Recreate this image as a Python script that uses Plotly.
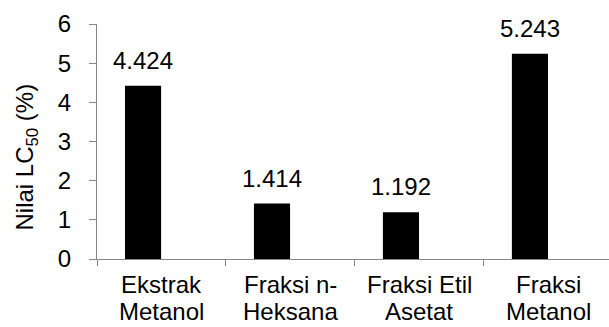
import plotly.graph_objects as go

categories = ["Ekstrak<br>Metanol", "Fraksi n-<br>Heksana", "Fraksi Etil<br>Asetat", "Fraksi<br>Metanol"]
values = [4.424, 1.414, 1.192, 5.243]
labels = ["4.424", "1.414", "1.192", "5.243"]
y_title = "Nilai LC<sub>50</sub> (%)"

FONT = "Liberation Sans, Arial, sans-serif"
AX = "#878787"
BAR_OFFSET = -0.283
BAR_WIDTH = 0.28
FS = 24

fig = go.Figure()
fig.add_trace(go.Bar(
    x=categories, y=values,
    marker=dict(color="#000000", line=dict(width=0)),
    offset=BAR_OFFSET, width=BAR_WIDTH,
    hoverinfo="skip",
))

# value labels above bars
for i, (v, t) in enumerate(zip(values, labels)):
    fig.add_annotation(
        x=i + BAR_OFFSET + BAR_WIDTH / 2, y=v, xref="x", yref="y",
        text=t, showarrow=False, yanchor="bottom", yshift=10,
        font=dict(family=FONT, size=FS, color="#000000"),
    )

# category labels (two lines each, tighter line spacing than tick labels)
for i, c in enumerate(categories):
    lines = c.split("<br>")
    n = len(lines)
    for j, line in enumerate(lines):
        fig.add_annotation(
            x=i, y=0, xref="x", yref="paper",
            text=line, showarrow=False, yanchor="bottom",
            yshift=-68 + 27 * (n - 1 - j),
            font=dict(family=FONT, size=FS, color="#000000"),
        )

# y-axis title
fig.add_annotation(
    x=0, y=0.5, xref="paper", yref="paper", xanchor="center", yanchor="middle",
    xshift=-71, yshift=-16, textangle=-90, showarrow=False,
    text=y_title, font=dict(family=FONT, size=FS, color="#000000"),
)

fig.update_layout(
    width=609, height=327,
    margin=dict(l=97, r=0, t=24, b=68),
    paper_bgcolor="white", plot_bgcolor="white",
    showlegend=False,
    font=dict(family=FONT, size=FS, color="#000000"),
    xaxis=dict(
        type="category", range=[-0.5, 3.47], automargin=False,
        showline=True, linecolor=AX, linewidth=1,
        ticks="outside", tickson="boundaries", ticklen=6, tickcolor=AX,
        showgrid=False, zeroline=False, showticklabels=False,
    ),
    yaxis=dict(
        range=[0, 6], dtick=1, tick0=0, automargin=False,
        showline=True, linecolor=AX, linewidth=1,
        ticks="outside", ticklen=7, tickcolor=AX,
        showgrid=False, zeroline=False,
        ticklabelstandoff=13,
        tickfont=dict(family=FONT, size=FS, color="#000000"),
    ),
)

fig.write_html("out.html")
